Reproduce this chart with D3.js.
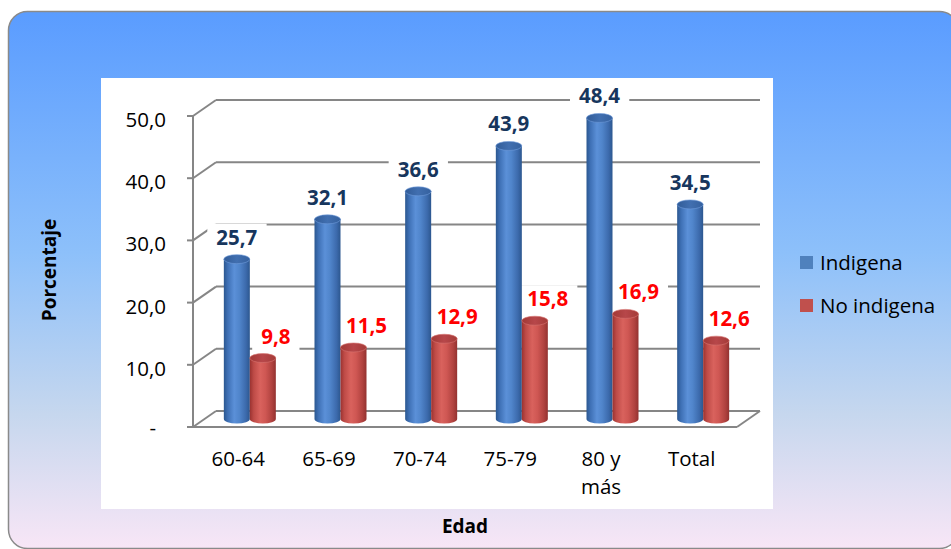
<!DOCTYPE html>
<html>
<head>
<meta charset="utf-8">
<script src="https://cdn.jsdelivr.net/npm/d3@7"></script>
<style>
  html, body { margin: 0; padding: 0; background: #ffffff; }
  svg { display: block; font-family: "Open Sans", sans-serif; }
</style>
</head>
<body>
<svg id="chart" width="951" height="549"></svg>
<script>
// Age groups and the share (%) for each population group
const categories = ["60-64", "65-69", "70-74", "75-79", "80 y más", "Total"];
const indigena = [25.7, 32.1, 36.6, 43.9, 48.4, 34.5];
const noIndigena = [9.8, 11.5, 12.9, 15.8, 16.9, 12.6];
const seriesNames = ["Indigena", "No indigena"];
const yTickValues = [0, 10, 20, 30, 40, 50];
const yTickLabels = ["-", "10,0", "20,0", "30,0", "40,0", "50,0"];
const fmt = v => v.toFixed(1).replace(".", ",");

const svg = d3.select("#chart");
const defs = svg.append("defs");

// Background gradient of the chart frame
const bg = defs.append("linearGradient").attr("id", "bgGrad")
  .attr("x1", 0).attr("y1", 0).attr("x2", 0).attr("y2", 1);
[[0, "#5A9CFF"], [0.45, "#8DC0FA"], [0.75, "#C6D7EE"], [1, "#F8E6F6"]]
  .forEach(([o, c]) => bg.append("stop").attr("offset", o).attr("stop-color", c));

// Cylinder shading
function cylGrad(id, stops) {
  const g = defs.append("linearGradient").attr("id", id)
    .attr("x1", 0).attr("y1", 0).attr("x2", 1).attr("y2", 0);
  stops.forEach(([o, c]) => g.append("stop").attr("offset", o).attr("stop-color", c));
}
cylGrad("blueBody", [[0, "#2B5790"], [0.15, "#3E70B5"], [0.4, "#5B90D8"], [0.6, "#5085CB"], [0.85, "#3C6AAC"], [1, "#2C578F"]]);
cylGrad("redBody", [[0, "#9A3230"], [0.15, "#BE4B47"], [0.4, "#D9625D"], [0.6, "#CF5753"], [0.85, "#B0423F"], [1, "#933230"]]);
cylGrad("blueTop", [[0, "#315C98"], [0.5, "#416FB0"], [1, "#35619F"]]);
cylGrad("redTop", [[0, "#A23936"], [0.5, "#B7474A"], [1, "#A43B38"]]);

// Frame and plot area
svg.append("rect")
  .attr("x", 8.5).attr("y", 11.5).attr("width", 950).attr("height", 537)
  .attr("rx", 19).attr("ry", 19)
  .attr("fill", "url(#bgGrad)").attr("stroke", "#8A8A8A").attr("stroke-width", 1.5);
svg.append("rect")
  .attr("x", 101).attr("y", 78).attr("width", 672).attr("height", 431)
  .attr("fill", "#ffffff");

// Scales (front plane of the 3D box)
const y = d3.scaleLinear().domain([0, 50]).range([427, 116]);
const x = d3.scaleBand().domain(categories).range([193, 737]);
const DX = 23, DY = -16;         // depth of the box
const MX = DX / 2, MY = DY / 2;  // bars stand in the middle of the depth

const grid = svg.append("g").attr("stroke", "#868686").attr("stroke-width", 2).attr("fill", "none");
// back wall gridlines
grid.selectAll(".gl").data(yTickValues).join("line")
  .attr("x1", x.range()[0] + DX).attr("x2", x.range()[1] + DX)
  .attr("y1", d => y(d) + DY).attr("y2", d => y(d) + DY);
// side wall diagonals
grid.selectAll(".gd").data(yTickValues).join("line")
  .attr("x1", x.range()[0]).attr("x2", x.range()[0] + DX)
  .attr("y1", d => y(d)).attr("y2", d => y(d) + DY);
// floor front edge and right edge
grid.append("line").attr("x1", x.range()[0]).attr("x2", x.range()[1])
  .attr("y1", y(0)).attr("y2", y(0));
grid.append("line").attr("x1", x.range()[1]).attr("x2", x.range()[1] + DX)
  .attr("y1", y(0)).attr("y2", y(0) + DY);
// value axis with ticks
grid.append("line").attr("x1", x.range()[0]).attr("x2", x.range()[0])
  .attr("y1", y(0)).attr("y2", y(50));
grid.selectAll(".tk").data(yTickValues).join("line")
  .attr("x1", x.range()[0] - 6).attr("x2", x.range()[0])
  .attr("y1", d => y(d)).attr("y2", d => y(d));

// tick labels
svg.append("g").selectAll("text").data(yTickValues).join("text")
  .attr("x", (d, i) => yTickLabels[i] === "-" ? 156 : 166)
  .attr("y", d => y(d) + (d === 0 ? 8 : 11))
  .attr("text-anchor", "end").attr("font-size", 20.5).attr("fill", "#000")
  .text((d, i) => yTickLabels[i]);

// category labels
const bw = x.bandwidth();
svg.append("g").selectAll("text").data(categories).join("text")
  .attr("text-anchor", "middle").attr("font-size", 20.5).attr("fill", "#000")
  .each(function (c) {
    const lines = c.replace("y ", "y\n").split("\n");
    const t = d3.select(this);
    lines.forEach((l, i) => t.append("tspan")
      .attr("x", x(c) + bw / 2).attr("y", 466 + i * 28).text(l));
  });

// Bars and data labels
const barW = 26, rx = barW / 2, ry = 4.5;
const series = [
  { name: seriesNames[0], values: indigena, off: -13, body: "url(#blueBody)", top: "url(#blueTop)", rim: "#6E9BDA", labelColor: "#17365D", labelDx: 0 },
  { name: seriesNames[1], values: noIndigena, off: 13, body: "url(#redBody)", top: "url(#redTop)", rim: "#D77470", labelColor: "#FF0000", labelDx: 13 }
];

const labelLayer = svg.append("g");   // white label boxes sit over the gridlines
const barLayer = svg.append("g");
const textLayer = svg.append("g");

series.forEach(s => {
  categories.forEach((c, i) => {
    const v = s.values[i];
    const cx = x(c) + bw / 2 + MX + s.off;
    const yb = y(0) + MY, yt = y(v) + MY;
    const g = barLayer.append("g");
    g.append("path")
      .attr("d", `M${cx - rx},${yt} L${cx - rx},${yb} A${rx},${ry} 0 0 0 ${cx + rx},${yb} L${cx + rx},${yt} Z`)
      .attr("fill", s.body);
    g.append("ellipse").attr("cx", cx).attr("cy", yt).attr("rx", rx).attr("ry", ry)
      .attr("fill", s.top).attr("stroke", s.rim).attr("stroke-width", 0.6);

    const t = textLayer.append("text")
      .attr("x", cx + s.labelDx).attr("y", yt - 14.5)
      .attr("text-anchor", "middle").attr("font-size", 20.5).attr("font-weight", "bold")
      .attr("fill", s.labelColor).text(fmt(v));
    const bb = t.node().getBBox();
    labelLayer.append("rect")
      .attr("x", bb.x - 9).attr("y", bb.y + 1).attr("width", bb.width + 18).attr("height", bb.height)
      .attr("fill", "#ffffff");
  });
});

// Axis titles
svg.append("text")
  .attr("transform", "translate(56,270) rotate(-90)")
  .attr("text-anchor", "middle").attr("font-size", 19).attr("font-weight", "bold")
  .attr("fill", "#000").text("Porcentaje");
svg.append("text")
  .attr("x", 465).attr("y", 533)
  .attr("text-anchor", "middle").attr("font-size", 19).attr("font-weight", "bold")
  .attr("fill", "#000").text("Edad");

// Legend
const legendColors = ["#4F81BD", "#C0504D"];
const legend = svg.append("g");
seriesNames.forEach((n, i) => {
  legend.append("rect").attr("x", 800).attr("y", 256 + i * 43)
    .attr("width", 13).attr("height", 13).attr("fill", legendColors[i]);
  legend.append("text").attr("x", 820).attr("y", 270 + i * 43)
    .attr("font-size", 20.5).attr("fill", "#000").text(n);
});
</script>
</body>
</html>
